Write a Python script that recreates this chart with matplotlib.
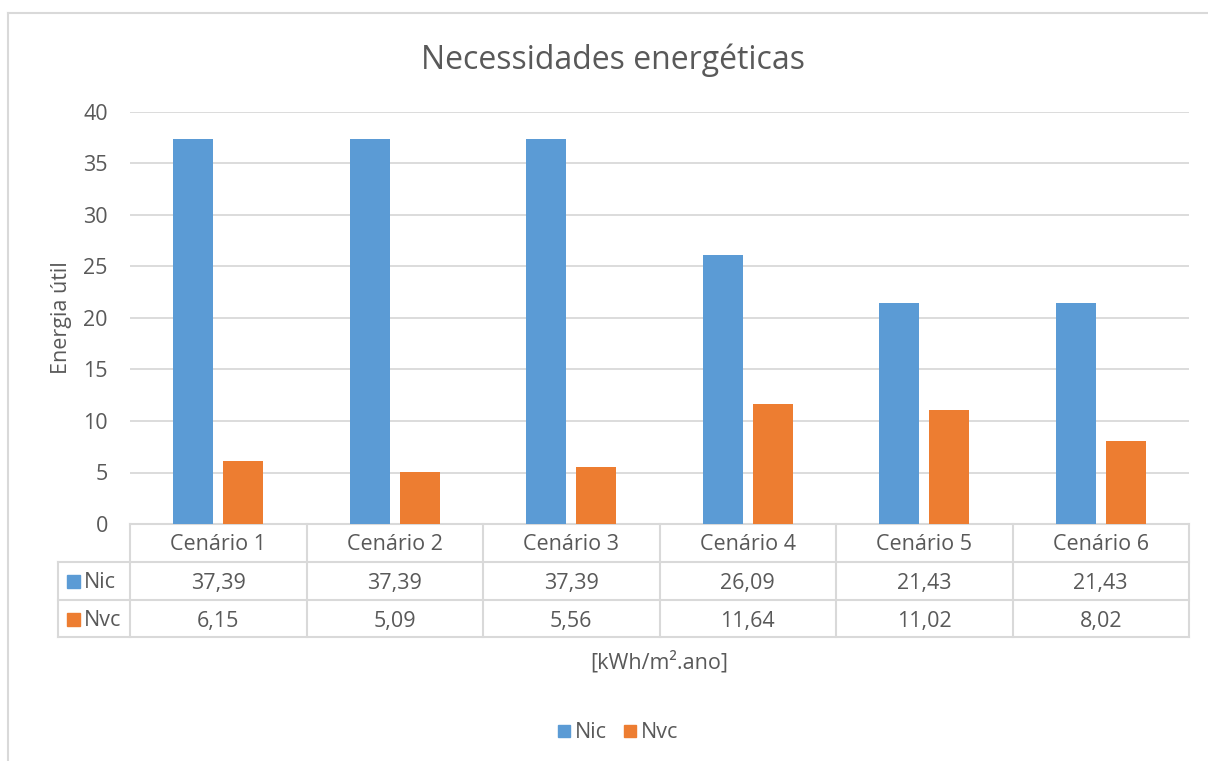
import matplotlib
matplotlib.use("Agg")
import matplotlib.pyplot as plt
import matplotlib.transforms as mtransforms
from matplotlib.patches import Rectangle
import numpy as np

plt.rcParams['font.family'] = ['Open Sans', 'DejaVu Sans']

cenarios = ["Cenário 1", "Cenário 2", "Cenário 3", "Cenário 4", "Cenário 5", "Cenário 6"]
nic = [37.39, 37.39, 37.39, 26.09, 21.43, 21.43]
nvc = [6.15, 5.09, 5.56, 11.64, 11.02, 8.02]
series = ["Nic", "Nvc"]

c_nic = "#5b9bd5"
c_nvc = "#ed7d31"
txt = "#595959"
grid = "#d9d9d9"
fs = 15.5

W, H = 1208, 761
fig = plt.figure(figsize=(W / 100, H / 100), dpi=100)

# plot area in pixels
L, R, T, B = 130, 1189, 112, 524
ax = fig.add_axes([L / W, (H - B) / H, (R - L) / W, (B - T) / H])

x = np.arange(len(cenarios)) + 0.5
bw = 40 / ((R - L) / 6)
off = 25 / ((R - L) / 6)
ax.bar(x - off, nic, bw, color=c_nic, zorder=3)
ax.bar(x + off, nvc, bw, color=c_nvc, zorder=3)

ax.set_xlim(0, 6)
ax.set_ylim(0, 40)
ax.set_yticks(range(0, 41, 5))
ax.yaxis.grid(True, color=grid, lw=1.3, zorder=0)
for s in ax.spines.values():
    s.set_visible(False)
ax.tick_params(axis='y', length=0, labelsize=fs, labelcolor=txt, pad=16)
ax.set_xticks([])
ax.set_ylabel("Energia útil", fontsize=fs, color=txt, labelpad=8)

# data table under the plot
tr = mtransforms.blended_transform_factory(ax.transData, ax.transAxes)
def ypos(py):
    return (B - py) / (B - T)
rows = [524, 562, 600, 637]
xl = (58 - L) / ((R - L) / 6)
kw = dict(transform=tr, color=grid, lw=1.5, clip_on=False, zorder=1)
ax.plot([0, 6], [ypos(524)] * 2, **kw)
for py in rows[1:]:
    ax.plot([xl, 6], [ypos(py)] * 2, **kw)
for i in range(7):
    ax.plot([i, i], [ypos(524), ypos(637)], **kw)
ax.plot([xl, xl], [ypos(562), ypos(637)], **kw)

for i, c in enumerate(cenarios):
    ax.text(i + 0.5, ypos(545), c, transform=tr, ha='center', va='center',
            fontsize=fs, color=txt)
    ax.text(i + 0.5, ypos(583), f"{nic[i]:.2f}".replace(".", ","), transform=tr,
            ha='center', va='center', fontsize=fs, color=txt)
    ax.text(i + 0.5, ypos(621), f"{nvc[i]:.2f}".replace(".", ","), transform=tr,
            ha='center', va='center', fontsize=fs, color=txt)

for name, col, py in zip(series, [c_nic, c_nvc], [581, 619]):
    fig.patches.append(Rectangle((67 / W, (H - py - 6.5) / H), 13 / W, 13 / H,
                                 transform=fig.transFigure, color=col))
    fig.text(84 / W, (H - py - 2) / H, name, ha='left', va='center', fontsize=fs, color=txt)

fig.text((L + R) / 2 / W, (H - 662) / H, "[kWh/m².ano]", ha='center', va='center',
         fontsize=fs, color=txt)

fig.text(613 / W, (H - 60) / H, "Necessidades energéticas", ha='center', va='center',
         fontsize=23, color=txt)

# legend at the bottom
for name, col, px in zip(series, [c_nic, c_nvc], [558, 624]):
    fig.patches.append(Rectangle((px / W, (H - 737) / H), 12 / W, 12 / H,
                                 transform=fig.transFigure, color=col))
    fig.text((px + 17) / W, (H - 733) / H, name, ha='left', va='center',
             fontsize=fs, color=txt)

# chart frame (only top and left visible in the crop)
fig.add_artist(plt.Line2D([8 / W, 8 / W], [0, (H - 13) / H], color=grid, lw=1.5,
                          transform=fig.transFigure))
fig.add_artist(plt.Line2D([8 / W, 1], [(H - 13) / H, (H - 13) / H], color=grid, lw=1.5,
                          transform=fig.transFigure))

fig.savefig("out.png", dpi=100, facecolor="white")
